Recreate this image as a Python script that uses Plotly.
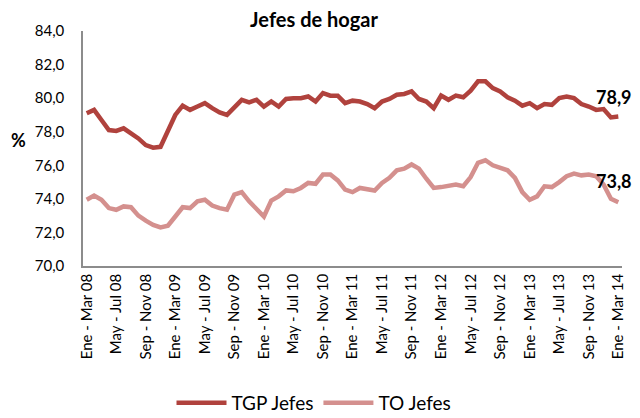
import plotly.graph_objects as go

# Trimestres móviles, Ene-Mar 08 ... Ene-Mar 14
meses = ["Ene", "Feb", "Mar", "Abr", "May", "Jun", "Jul", "Ago", "Sep", "Oct", "Nov", "Dic"]
periodos = []
for k in range(73):
    m = k % 12
    anio = 8 + (k + 2) // 12
    periodos.append(f"{meses[m]} - {meses[(m + 2) % 12]} {anio:02d}")

tick_labels = periodos[::4]

tgp_jefes = [
    79.1, 79.3, 78.7, 78.1, 78.05, 78.2, 77.9, 77.6, 77.2, 77.05,
    77.1, 78.1, 79.0, 79.55, 79.3, 79.5, 79.7, 79.4, 79.15, 79.0,
    79.5, 79.9, 79.75, 79.9, 79.5, 79.8, 79.5, 79.95, 80.0, 80.0,
    80.1, 79.8, 80.3, 80.15, 80.15, 79.7, 79.85, 79.8, 79.65, 79.4,
    79.8, 79.95, 80.2, 80.25, 80.4, 79.95, 79.8, 79.4, 80.15, 79.9,
    80.15, 80.05, 80.45, 81.0, 81.0, 80.6, 80.4, 80.05, 79.85, 79.55,
    79.7, 79.4, 79.65, 79.6, 80.0, 80.1, 80.0, 79.65, 79.5, 79.3,
    79.35, 78.85, 78.9,
]

to_jefes = [
    73.95, 74.2, 73.95, 73.45, 73.35, 73.55, 73.5, 73.0, 72.7, 72.45,
    72.3, 72.4, 72.95, 73.5, 73.45, 73.85, 73.95, 73.6, 73.45, 73.35,
    74.25, 74.4, 73.85, 73.35, 72.95, 73.9, 74.15, 74.5, 74.45, 74.65,
    74.95, 74.9, 75.45, 75.45, 75.1, 74.55, 74.4, 74.65, 74.6, 74.5,
    74.95, 75.25, 75.7, 75.8, 76.05, 75.8, 75.2, 74.65, 74.7, 74.75,
    74.85, 74.75, 75.3, 76.15, 76.3, 76.0, 75.85, 75.7, 75.25, 74.4,
    73.95, 74.15, 74.75, 74.7, 75.0, 75.35, 75.5, 75.4, 75.45, 75.35,
    74.85, 74.0, 73.8,
]

FONT = "Lato, 'Open Sans', sans-serif"
TGP_COLOR = "#B0423D"
TO_COLOR = "#D4908E"

# the page body adds an 8px margin, so the figure is sized 8px smaller
W, H = 632, 410

fig = go.Figure()
fig.add_trace(go.Scatter(
    x=periodos, y=tgp_jefes, mode="lines", name="TGP Jefes",
    line=dict(color=TGP_COLOR, width=4.5),
))
fig.add_trace(go.Scatter(
    x=periodos, y=to_jefes, mode="lines", name="TO Jefes",
    line=dict(color=TO_COLOR, width=4.5),
))

# rótulos del último valor
for serie, dy in [(tgp_jefes, 20), (to_jefes, 21)]:
    fig.add_annotation(
        x=periodos[-1], y=serie[-1],
        text="<b>" + f"{serie[-1]:.1f}".replace(".", ",") + "</b>",
        showarrow=False, yshift=dy, xshift=-4,
        font=dict(size=18, color="black", family=FONT),
    )

fig.add_annotation(
    text="<b>%</b>", xref="paper", yref="paper",
    x=-0.137, y=0.536, showarrow=False,
    font=dict(size=18, color="black", family=FONT),
)

fig.update_layout(
    width=W, height=H,
    margin=dict(l=75, r=18, t=23, b=152),
    paper_bgcolor="white", plot_bgcolor="white",
    font=dict(family=FONT, color="black"),
    separators=",.",
    title=dict(
        text="<b>Jefes de hogar</b>", x=306 / W, xanchor="center", xref="container",
        y=1 - 12 / H, yanchor="middle", font=dict(size=20, color="black"),
    ),
    xaxis=dict(
        type="category", range=[-0.5, 72.5],
        tickmode="array", tickvals=tick_labels, ticktext=tick_labels,
        tickangle=-90, tickfont=dict(size=15),
        showline=True, linecolor="#8c8c8c", linewidth=1.5,
        showgrid=False, zeroline=False, ticks="",
    ),
    yaxis=dict(
        range=[70, 84], dtick=2, tickformat=".1f", tickfont=dict(size=15),
        showline=True, linecolor="#8c8c8c", linewidth=1.5,
        showgrid=False, zeroline=False, ticks="", ticklabelstandoff=14,
    ),
    legend=dict(
        orientation="h", x=306 / W, xanchor="center", xref="container",
        y=15 / H, yanchor="middle", yref="container",
        font=dict(size=19), itemwidth=50,
    ),
)

fig.write_html("out.html")
